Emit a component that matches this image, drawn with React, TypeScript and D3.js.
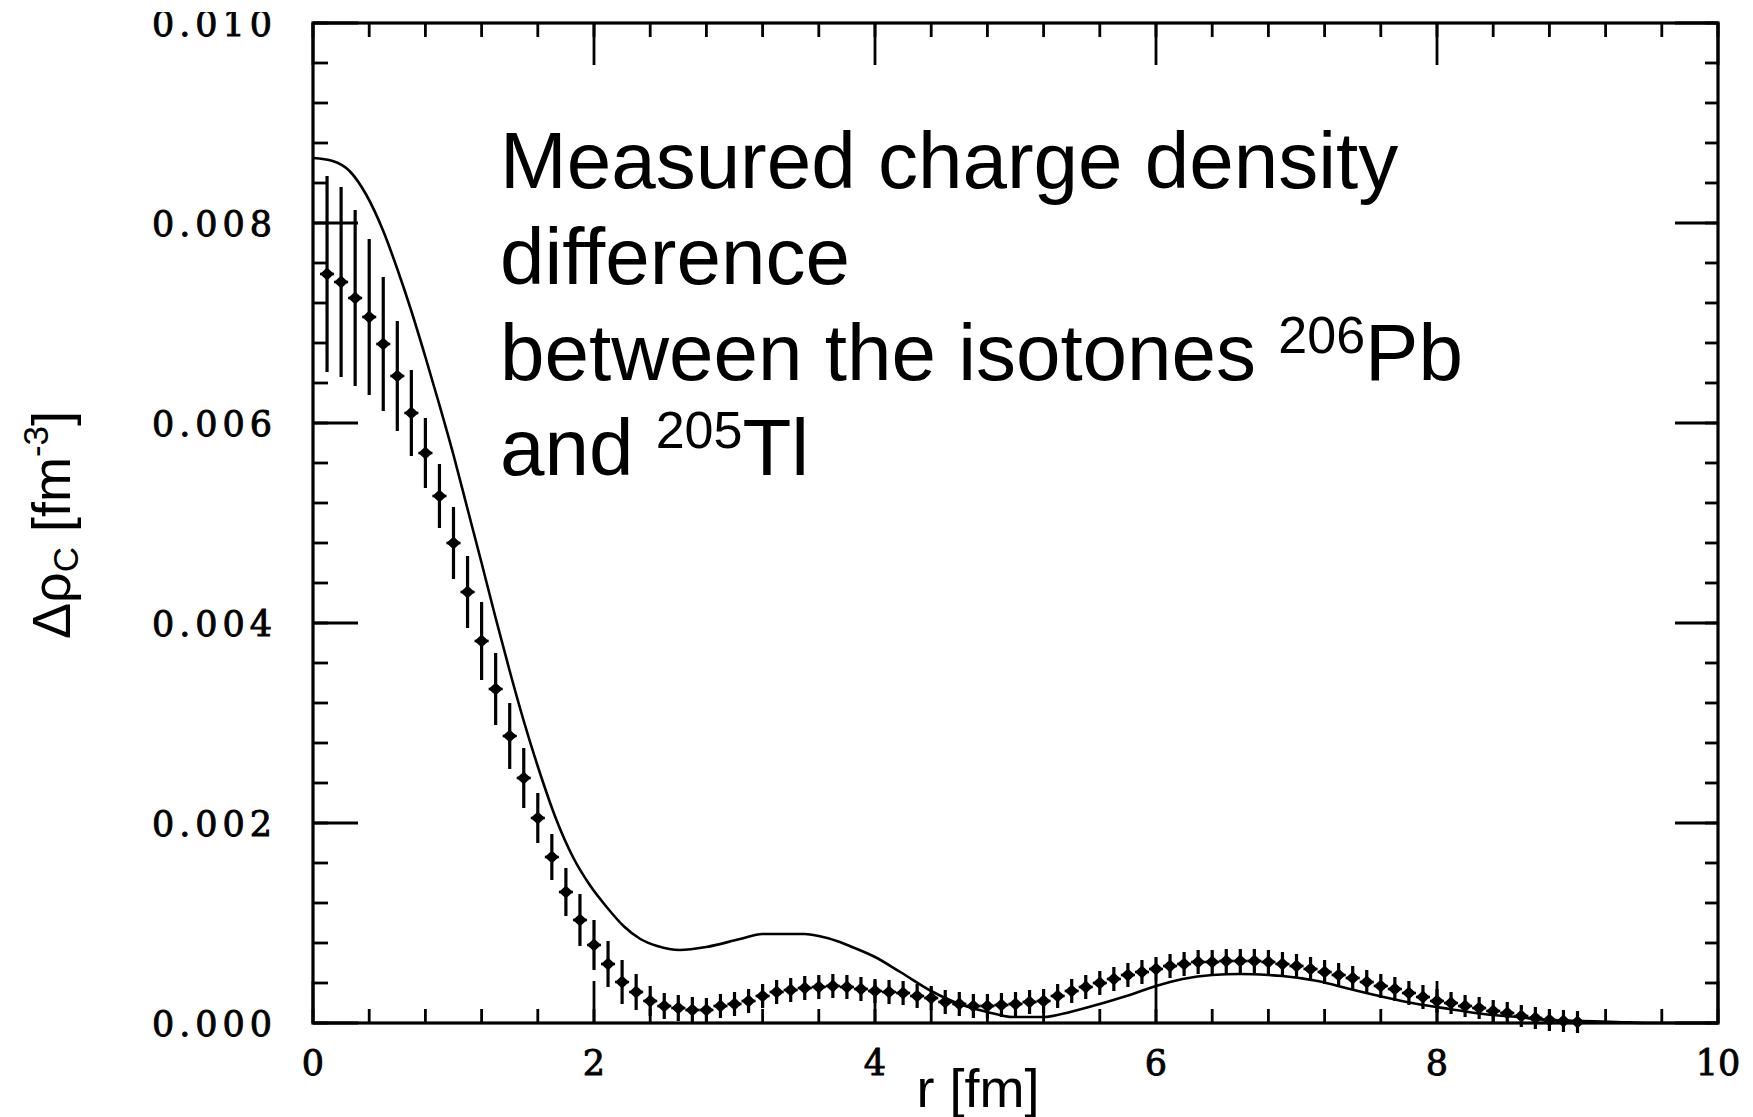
import React from "react";
import * as d3 from "d3";

// Theory curve (r in fm, Δρ in fm^-3)
const theoryR = [0.0, 0.14, 0.26, 0.38, 0.5, 0.6, 0.7, 0.8, 0.9, 1.0, 1.1, 1.2, 1.3, 1.4, 1.5, 1.62, 1.73, 1.85, 1.97, 2.09, 2.21, 2.33, 2.45, 2.61, 2.8, 3.04, 3.2, 3.5, 3.6, 3.75, 3.82, 4.0, 4.18, 4.4, 4.6, 4.8, 4.98, 5.2, 5.39, 5.6, 5.79, 6.0, 6.19, 6.4, 6.6, 6.8, 6.9, 7.15, 7.38, 7.62, 7.86, 8.09, 8.33, 8.57, 8.8, 9.04, 9.28, 9.5, 10.0];
const theoryV = [8.65, 8.62, 8.52, 8.28, 7.92, 7.54, 7.12, 6.66, 6.18, 5.68, 5.14, 4.60, 4.05, 3.52, 3.02, 2.48, 2.04, 1.66, 1.38, 1.16, 0.97, 0.84, 0.77, 0.73, 0.76, 0.84, 0.89, 0.89, 0.87, 0.81, 0.77, 0.66, 0.51, 0.32, 0.19, 0.11, 0.06, 0.06, 0.11, 0.19, 0.27, 0.37, 0.44, 0.48, 0.49, 0.48, 0.47, 0.42, 0.34, 0.26, 0.19, 0.14, 0.09, 0.06, 0.03, 0.02, 0.01, 0.0, 0.0];

// Measured points (every 0.1 fm from 0.1 to 9.0), values in 1e-3 fm^-3
const dataR = d3.range(1, 91).map((i) => i / 10);
const dataV = [
  7.49, 7.41, 7.25, 7.06, 6.79, 6.47, 6.10, 5.70, 5.27, 4.80,
  4.31, 3.82, 3.34, 2.87, 2.45, 2.05, 1.66, 1.31, 1.03, 0.78,
  0.59, 0.41, 0.31, 0.22, 0.17, 0.15, 0.13, 0.13, 0.17, 0.19,
  0.22, 0.27, 0.31, 0.33, 0.35, 0.36, 0.37, 0.36, 0.34, 0.32,
  0.31, 0.30, 0.27, 0.25, 0.21, 0.19, 0.17, 0.17, 0.18, 0.19,
  0.21, 0.22, 0.27, 0.32, 0.36, 0.40, 0.44, 0.48, 0.51, 0.54,
  0.57, 0.59, 0.61, 0.61, 0.62, 0.62, 0.62, 0.61, 0.59, 0.57,
  0.54, 0.51, 0.48, 0.45, 0.41, 0.37, 0.34, 0.30, 0.26, 0.22,
  0.20, 0.17, 0.15, 0.12, 0.10, 0.07, 0.05, 0.03, 0.02, 0.01,
];
const dataErr = [
  0.98, 0.95, 0.88, 0.78, 0.67, 0.55, 0.43, 0.35, 0.32, 0.36,
  0.36, 0.39, 0.36, 0.33, 0.30, 0.25, 0.23, 0.24, 0.26, 0.25,
  0.23, 0.22, 0.18, 0.15, 0.13, 0.13, 0.13, 0.12, 0.12, 0.12,
  0.12, 0.12, 0.12, 0.12, 0.12, 0.12, 0.12, 0.12, 0.12, 0.12,
  0.12, 0.12, 0.12, 0.12, 0.12, 0.12, 0.12, 0.12, 0.12, 0.12,
  0.12, 0.12, 0.12, 0.12, 0.12, 0.12, 0.12, 0.12, 0.12, 0.12,
  0.12, 0.12, 0.12, 0.12, 0.12, 0.12, 0.12, 0.12, 0.12, 0.12,
  0.12, 0.12, 0.12, 0.12, 0.12, 0.12, 0.12, 0.12, 0.12, 0.12,
  0.11, 0.11, 0.11, 0.11, 0.11, 0.11, 0.11, 0.11, 0.11, 0.11,
];

const xMajor = [0, 2, 4, 6, 8, 10];
const xMajorLabels = ["0", "2", "4", "6", "8", "10"];
const yMajor = [0, 0.002, 0.004, 0.006, 0.008, 0.01];
const yMajorLabels = ["0.000", "0.002", "0.004", "0.006", "0.008", "0.010"];
const xMinor = d3.range(0, 51).map((i) => i * 0.4).filter((v) => v <= 10);
const yMinor = d3.range(0, 26).map((i) => i * 0.0004).filter((v) => v <= 0.01);

const titleLines = ["Measured charge density", "difference"];

export default function App() {
  const W = 1753;
  const H = 1117;
  const L = 313, R = 1718, T = 23, B = 1023;
  const x = d3.scaleLinear().domain([0, 10]).range([L, R]);
  const y = d3.scaleLinear().domain([0, 0.01]).range([B, T]);

  const theory = theoryR.map((r, i) => [r, theoryV[i] / 1000] as [number, number]);
  const line = d3
    .line<[number, number]>()
    .x((d) => x(d[0]))
    .y((d) => y(d[1]))
    .curve(d3.curveMonotoneX);

  const stroke = "#000";
  const serif = "'DejaVu Serif', 'Liberation Serif', serif";
  const sans = "'Liberation Sans', Arial, sans-serif";

  return (
    <svg
      width={W}
      height={H}
      viewBox={`0 0 ${W} ${H}`}
      style={{ position: "absolute", left: 0, top: 0, background: "#fff" }}
    >
      <rect x={0} y={0} width={W} height={H} fill="#fff" />

      {/* theory curve */}
      <path d={line(theory) || ""} fill="none" stroke={stroke} strokeWidth={2.6} />

      {/* data points */}
      <g stroke={stroke} strokeWidth={3.2} fill={stroke}>
        {dataR.map((r, i) => {
          const v = dataV[i] / 1000;
          const e = dataErr[i] / 1000;
          const cx = x(r);
          const cy = y(v);
          const hx = x(r + 0.05) - cx;
          return (
            <g key={i}>
              <line x1={cx} x2={cx} y1={y(v + e)} y2={y(v - e)} />
              <line x1={cx - hx} x2={cx + hx} y1={cy} y2={cy} strokeWidth={2.6} />
              <path
                d={`M${cx - 7},${cy} L${cx},${cy - 6.5} L${cx + 7},${cy} L${cx},${cy + 6.5} Z`}
                stroke="none"
              />
            </g>
          );
        })}
      </g>

      {/* frame */}
      <rect x={L} y={T} width={R - L} height={B - T} fill="none" stroke={stroke} strokeWidth={3.2} />

      {/* ticks */}
      <g stroke={stroke} strokeWidth={2.8}>
        {xMinor.map((v, i) => (
          <g key={"xm" + i}>
            <line x1={x(v)} x2={x(v)} y1={B} y2={B - 14} />
            <line x1={x(v)} x2={x(v)} y1={T} y2={T + 14} />
          </g>
        ))}
        {xMajor.map((v, i) => (
          <g key={"xM" + i}>
            <line x1={x(v)} x2={x(v)} y1={B} y2={B - 42} />
            <line x1={x(v)} x2={x(v)} y1={T} y2={T + 42} />
          </g>
        ))}
        {yMinor.map((v, i) => (
          <g key={"ym" + i}>
            <line x1={L} x2={L + 15} y1={y(v)} y2={y(v)} />
            <line x1={R} x2={R - 13} y1={y(v)} y2={y(v)} />
          </g>
        ))}
        {yMajor.map((v, i) => (
          <g key={"yM" + i}>
            <line x1={L} x2={L + 45} y1={y(v)} y2={y(v)} />
            <line x1={R} x2={R - 43} y1={y(v)} y2={y(v)} />
          </g>
        ))}
      </g>

      {/* tick labels */}
      <g fontFamily={serif} fontSize={35} fill={stroke} stroke={stroke} strokeWidth={0.9}>
        {yMajor.map((v, i) => (
          <text
            key={"yl" + i}
            x={L - 161}
            y={y(v) + 13}
            textLength={120}
            lengthAdjust="spacing"
          >
            {yMajorLabels[i]}
          </text>
        ))}
        {xMajor.map((v, i) => (
          <text key={"xl" + i} x={x(v)} y={1075} textAnchor="middle">
            {xMajorLabels[i]}
          </text>
        ))}
      </g>
      {/* top of the image is cropped */}
      <rect x={120} y={0} width={180} height={12} fill="#fff" />

      {/* axis titles */}
      <text x={978} y={1107} textAnchor="middle" fontFamily={sans} fontSize={54} fill={stroke}>
        r [fm]
      </text>
      <text
        transform={`translate(70,525) rotate(-90)`}
        textAnchor="middle"
        fontFamily={sans}
        fontSize={54}
        fill={stroke}
      >
        Δρ
        <tspan fontSize={35} dy={8}>C</tspan>
        <tspan dy={-8}> [fm</tspan>
        <tspan fontSize={35} dy={-22}>-3</tspan>
        <tspan dy={22}>]</tspan>
      </text>

      {/* annotation */}
      <g fontFamily={sans} fontSize={80} fill={stroke}>
        <text x={500} y={188}>{titleLines[0]}</text>
        <text x={500} y={284}>{titleLines[1]}</text>
        <text x={500} y={380}>
          between the isotones <tspan fontSize={52} dy={-27}>206</tspan>
          <tspan dy={27}>Pb</tspan>
        </text>
        <text x={500} y={475}>
          and <tspan fontSize={52} dy={-27}>205</tspan>
          <tspan dy={27}>Tl</tspan>
        </text>
      </g>
    </svg>
  );
}
